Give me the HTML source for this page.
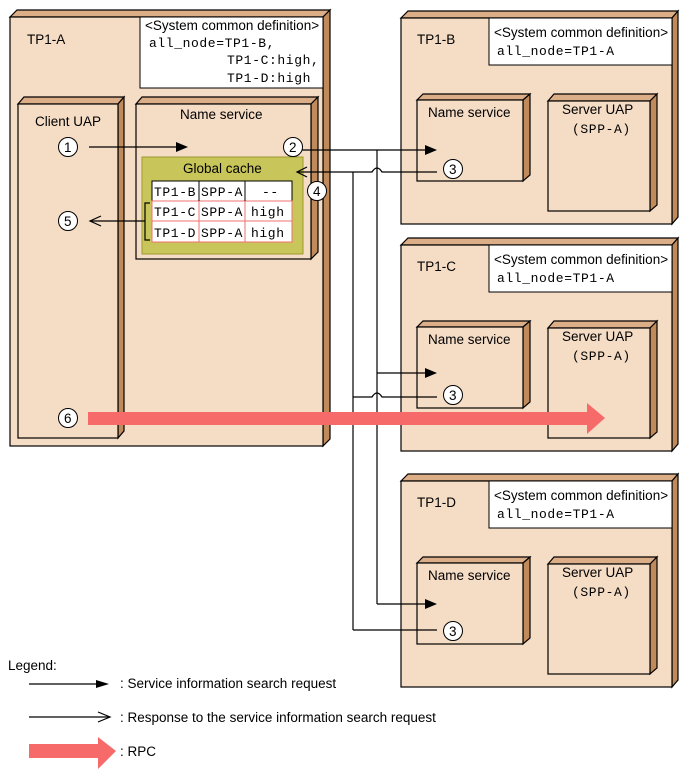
<!DOCTYPE html>
<html><head><meta charset="utf-8"><style>
html,body{margin:0;padding:0;background:#fff;}
svg{display:block;}
text{font-family:"Liberation Sans",sans-serif;font-size:13.5px;fill:#000;}
.m{font-family:"Liberation Mono",monospace;font-size:13px;letter-spacing:0.6px;}
.f{fill:#f4dcc5;stroke:#000;stroke-width:1.2;}
.t{fill:#dcae88;stroke:#000;stroke-width:1.2;}
.s{fill:#c08a5a;stroke:#000;stroke-width:1.2;}
.w{fill:#fff;stroke:#000;stroke-width:1;}
.c{fill:#fff;stroke:#000;stroke-width:1;}
.l{stroke:#000;stroke-width:1.2;fill:none;}
</style></head><body>
<svg width="682" height="773" viewBox="0 0 682 773" xmlns="http://www.w3.org/2000/svg">
<polygon class="t" points="10,17 17,10 330,10 323,17"/>
<polygon class="s" points="323,17 330,10 330,439 323,446"/>
<rect class="f" x="10" y="17" width="313" height="429"/>
<text x="27" y="44">TP1-A</text>
<rect class="w" x="140" y="17" width="183" height="71"/>
<text x="145" y="30">&lt;System common definition&gt;</text>
<text class="m" x="149" y="47">all_node=TP1-B,</text>
<text class="m" x="227" y="64">TP1-C:high,</text>
<text class="m" x="227" y="82">TP1-D:high</text>
<polygon class="t" points="18,104 24,97 124,97 118,104"/>
<polygon class="s" points="118,104 124,97 124,431 118,438"/>
<rect class="f" x="18" y="104" width="100" height="334"/>
<text x="35" y="126">Client UAP</text>
<polygon class="t" points="136,104 142,97 318,97 311,104"/>
<polygon class="s" points="311,104 318,97 318,252 311,259"/>
<rect class="f" x="136" y="104" width="175" height="155"/>
<text x="180" y="119">Name service</text>
<rect x="142" y="157" width="161" height="97" fill="#c8c65a" stroke="#9c9a30" stroke-width="1"/>
<text x="183" y="173">Global cache</text>
<rect x="152" y="181" width="140" height="20" fill="#fff" stroke="#000"/>
<rect x="152" y="201" width="140" height="41" fill="#fff" stroke="#f07070"/>
<line x1="152" y1="221" x2="292" y2="221" stroke="#f07070"/>
<line x1="199" y1="181" x2="199" y2="201" stroke="#000"/><line x1="245" y1="181" x2="245" y2="201" stroke="#000"/>
<line x1="199" y1="201" x2="199" y2="242" stroke="#f07070"/><line x1="245" y1="201" x2="245" y2="242" stroke="#f07070"/>
<text class="m" x="154" y="196">TP1-B</text><text class="m" x="201" y="196">SPP-A</text><text class="m" x="262" y="196">--</text>
<text class="m" x="154" y="216">TP1-C</text><text class="m" x="201" y="216">SPP-A</text><text class="m" x="251" y="216">high</text>
<text class="m" x="154" y="237">TP1-D</text><text class="m" x="201" y="237">SPP-A</text><text class="m" x="251" y="237">high</text>
<polyline class="l" points="150,203 145,203 145,240 150,240"/>

<g>
<polygon class="t" points="401,18 408,11 678,11 672,18"/>
<polygon class="s" points="672,18 678,11 678,217 672,224"/>
<rect class="f" x="401" y="18" width="271" height="206"/>
<text x="417" y="44">TP1-B</text>
<rect class="w" x="489" y="18" width="183" height="47"/>
<text x="494" y="37">&lt;System common definition&gt;</text>
<text class="m" x="497" y="55">all_node=TP1-A</text>
<polygon class="t" points="417,100 423,94 530,94 523,100"/>
<polygon class="s" points="523,100 530,94 530,175 523,181"/>
<rect class="f" x="417" y="100" width="106" height="81"/>
<text x="428" y="117">Name service</text>
<polygon class="t" points="548,101 554,94 657,94 650,101"/>
<polygon class="s" points="650,101 657,94 657,205 650,211"/>
<rect class="f" x="548" y="101" width="102" height="110"/>
<text x="562" y="114">Server UAP</text>
<text class="m" x="572" y="133">(SPP-A)</text>
</g>
<g transform="translate(0,227)">
<polygon class="t" points="401,18 408,11 678,11 672,18"/>
<polygon class="s" points="672,18 678,11 678,217 672,224"/>
<rect class="f" x="401" y="18" width="271" height="206"/>
<text x="417" y="44">TP1-C</text>
<rect class="w" x="489" y="18" width="183" height="47"/>
<text x="494" y="37">&lt;System common definition&gt;</text>
<text class="m" x="497" y="55">all_node=TP1-A</text>
<polygon class="t" points="417,100 423,94 530,94 523,100"/>
<polygon class="s" points="523,100 530,94 530,175 523,181"/>
<rect class="f" x="417" y="100" width="106" height="81"/>
<text x="428" y="117">Name service</text>
<polygon class="t" points="548,101 554,94 657,94 650,101"/>
<polygon class="s" points="650,101 657,94 657,205 650,211"/>
<rect class="f" x="548" y="101" width="102" height="110"/>
<text x="562" y="114">Server UAP</text>
<text class="m" x="572" y="133">(SPP-A)</text>
</g>
<g transform="translate(0,463)">
<polygon class="t" points="401,18 408,11 678,11 672,18"/>
<polygon class="s" points="672,18 678,11 678,217 672,224"/>
<rect class="f" x="401" y="18" width="271" height="206"/>
<text x="417" y="44">TP1-D</text>
<rect class="w" x="489" y="18" width="183" height="47"/>
<text x="494" y="37">&lt;System common definition&gt;</text>
<text class="m" x="497" y="55">all_node=TP1-A</text>
<polygon class="t" points="417,100 423,94 530,94 523,100"/>
<polygon class="s" points="523,100 530,94 530,175 523,181"/>
<rect class="f" x="417" y="100" width="106" height="81"/>
<text x="428" y="117">Name service</text>
<polygon class="t" points="548,101 554,94 657,94 650,101"/>
<polygon class="s" points="650,101 657,94 657,205 650,211"/>
<rect class="f" x="548" y="101" width="102" height="110"/>
<text x="562" y="114">Server UAP</text>
<text class="m" x="572" y="133">(SPP-A)</text>
</g>

<line class="l" x1="89" y1="147" x2="178" y2="147"/>
<polygon points="176,142 188,147 176,152" fill="#000"/>
<line class="l" x1="90" y1="221" x2="145" y2="221"/>
<polyline class="l" points="101,216 90,221 101,226"/>
<line class="l" x1="302" y1="150" x2="430" y2="150"/>
<polygon points="425,145 437,150 425,155" fill="#000"/>
<line class="l" x1="377" y1="150" x2="377" y2="604"/>
<line class="l" x1="377" y1="373" x2="430" y2="373"/>
<polygon points="425,368 437,373 425,378" fill="#000"/>
<line class="l" x1="377" y1="604" x2="430" y2="604"/>
<polygon points="425,599 437,604 425,609" fill="#000"/>
<path class="l" d="M437,172 H382 Q377,164 372,172 H297"/>
<polyline class="l" points="307,167 297,172 307,177"/>
<line class="l" x1="353" y1="172" x2="353" y2="630"/>
<path class="l" d="M437,397 H382 Q377,389 372,397 H353"/>
<line class="l" x1="353" y1="630" x2="437" y2="630"/>
<rect x="88" y="412" width="500" height="13" fill="#f76a6a"/>
<polygon points="587,403 605,418 587,434" fill="#f76a6a"/>

<circle class="c" cx="68" cy="147" r="9.5"/><text x="64" y="152">1</text>
<circle class="c" cx="293" cy="147" r="9.5"/><text x="289" y="152">2</text>
<circle class="c" cx="317" cy="191" r="9.5"/><text x="313" y="196">4</text>
<circle class="c" cx="68" cy="221" r="9.5"/><text x="64" y="226">5</text>
<circle class="c" cx="68" cy="418" r="9.5"/><text x="64" y="423">6</text>
<circle class="c" cx="453" cy="169" r="9.5"/><text x="449" y="174">3</text>
<circle class="c" cx="453" cy="395" r="9.5"/><text x="449" y="400">3</text>
<circle class="c" cx="453" cy="631" r="9.5"/><text x="449" y="636">3</text>

<text x="8" y="670">Legend:</text>
<line class="l" x1="29" y1="684" x2="100" y2="684"/>
<polygon points="96,680 109,684 96,688" fill="#000"/>
<text x="120" y="688">: Service information search request</text>
<line class="l" x1="29" y1="717" x2="110" y2="717"/>
<polyline class="l" points="98,712 110,717 98,722"/>
<text x="120" y="722">: Response to the service information search request</text>
<rect x="29" y="744" width="70" height="14" fill="#f76a6a"/>
<polygon points="98,737 116,751 98,769" fill="#f76a6a"/>
<text x="120" y="756">: RPC</text>
</svg>
</body></html>
